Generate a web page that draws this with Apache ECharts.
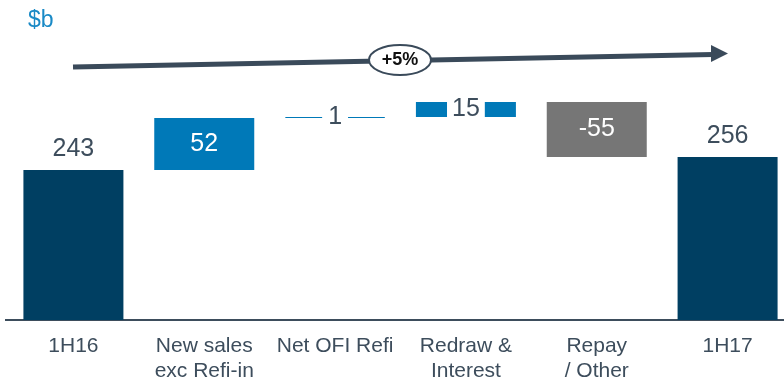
<!DOCTYPE html>
<html><head><meta charset="utf-8">
<script src="https://cdn.jsdelivr.net/npm/echarts@6/dist/echarts.min.js"></script>
<style>html,body{margin:0;padding:0;background:#fff;overflow:hidden;width:784px;height:384px}#c{width:800px;height:384px}</style>
</head><body><div id="c"></div>
<script>
const categories = ['1H16', 'New sales\nexc Refi-in', 'Net OFI Refi', 'Redraw &\nInterest', 'Repay\n/ Other', '1H17'];
const changes = [243, 52, 1, 15, -55, 256];
const kinds = ['total', 'delta', 'delta', 'delta', 'delta', 'total'];
const growthLabel = '+5%';
const unitLabel = '$b';

const NAVY = '#003f62', BLUE = '#0079b8', GREY = '#767676', TXT = '#3d4d5c';

// compute waterfall base/size
const base = [], size = [];
let running = 0;
changes.forEach((v, i) => {
  if (kinds[i] === 'total') { base.push(0); size.push(v); running = v; }
  else {
    const lo = v >= 0 ? running : running + v;
    base.push(lo); size.push(Math.abs(v)); running += v;
  }
});

const sizeData = size.map((s, i) => {
  const d = { value: s };
  if (kinds[i] === 'total') {
    d.itemStyle = { color: NAVY };
    d.label = { show: true, position: 'top', distance: 8, color: TXT, fontSize: 25, formatter: String(changes[i]) };
  } else if (changes[i] < 0) {
    d.itemStyle = { color: GREY };
    d.label = { show: true, position: 'inside', color: '#fff', fontSize: 25, formatter: String(changes[i]) };
  } else if (Math.abs(changes[i]) < 5) {
    d.itemStyle = { color: BLUE, borderColor: BLUE, borderWidth: 1 };
    d.label = { show: true, position: 'inside', color: TXT, fontSize: 25, backgroundColor: '#fff', padding: [0, 6, 0, 6], formatter: String(changes[i]) };
  } else if (Math.abs(changes[i]) < 25) {
    d.itemStyle = { color: BLUE };
    d.label = { show: true, position: 'inside', color: TXT, fontSize: 25, backgroundColor: '#fff', padding: [0, 5, 0, 5], lineHeight: 20, formatter: String(changes[i]) };
  } else {
    d.itemStyle = { color: BLUE };
    d.label = { show: true, position: 'inside', color: '#fff', fontSize: 25, formatter: String(changes[i]) };
  }
  return d;
});

const chart = echarts.init(document.getElementById('c'), null, { renderer: 'canvas' });
chart.setOption({
  animation: false,
  textStyle: { fontFamily: 'Liberation Sans, Arial, sans-serif' },
  grid: { left: 8, width: 785, top: 20, bottom: 64, containLabel: false },
  xAxis: {
    type: 'category', data: categories,
    axisLine: { lineStyle: { color: TXT, width: 2 } },
    axisTick: { show: false },
    axisLabel: { interval: 0, color: TXT, fontSize: 21, lineHeight: 25, margin: 14 }
  },
  yAxis: { type: 'value', min: 93, max: 393, show: false, splitLine: { show: false } },
  series: [
    { type: 'bar', stack: 'w', data: base, itemStyle: { color: 'transparent' }, barWidth: 100, silent: true },
    { type: 'bar', stack: 'w', data: sizeData, barWidth: 100 }
  ],
  graphic: [
    { type: 'line', shape: { x1: 5, y1: 320, x2: 10, y2: 320 }, style: { stroke: TXT, lineWidth: 2 } },
    { type: 'text', left: 28, top: 9, style: { text: unitLabel, fill: '#1a8ac6', fontSize: 23, fontFamily: 'Liberation Sans, Arial, sans-serif' } },
    { type: 'line', shape: { x1: 73, y1: 67, x2: 713, y2: 54.5 }, style: { stroke: '#3a4a5a', lineWidth: 5 } },
    { type: 'polygon', shape: { points: [[711, 45], [728, 53.5], [711, 62]] }, style: { fill: '#3a4a5a' } },
    { type: 'ellipse', shape: { cx: 400, cy: 60, rx: 31, ry: 15 }, style: { fill: '#fff', stroke: '#3a4a5a', lineWidth: 2 } },
    { type: 'text', x: 400, y: 60, style: { text: growthLabel, fill: '#111', fontSize: 18, fontWeight: 'bold', align: 'center', verticalAlign: 'middle', fontFamily: 'Liberation Sans, Arial, sans-serif' } }
  ]
});
</script></body></html>
